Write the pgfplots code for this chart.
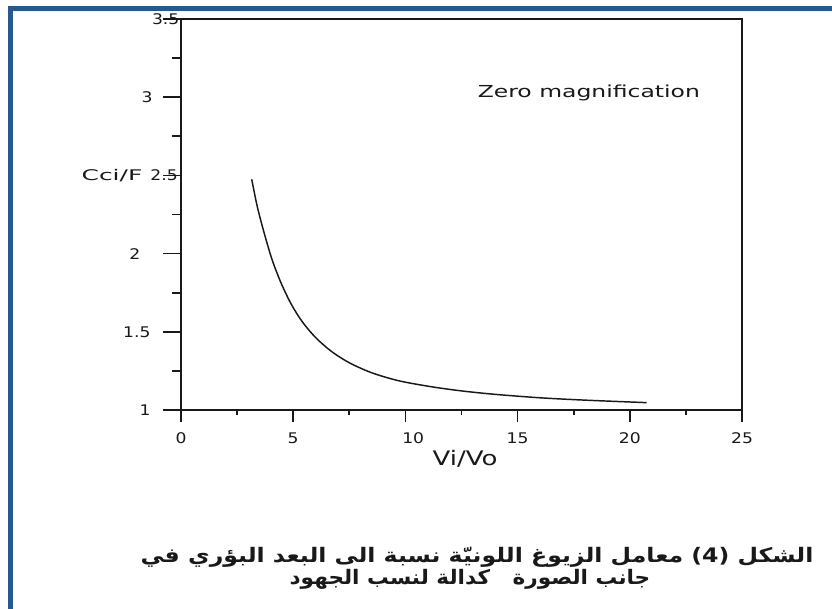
\documentclass[border=0pt]{standalone}
\usepackage{fontspec}
\usepackage{pgfplots}
\pgfplotsset{compat=1.18}
\setmainfont{DejaVu Sans}
\newfontfamily\arabicfont[Script=Arabic]{DejaVu Sans}
\TeXXeTstate=1
\definecolor{frameblue}{RGB}{38,89,143}
\definecolor{ink}{RGB}{25,25,25}

% chromatic aberration coefficient versus voltage ratio
\pgfplotstableread{
x      y
3.15   2.475
3.40   2.300
3.70   2.135
4.05   1.965
4.45   1.815
4.90   1.680
5.40   1.565
6.00   1.463
6.70   1.375
7.50   1.302
8.50   1.238
9.70   1.187
11.10  1.150
12.50  1.122
14.00  1.100
16.00  1.078
18.00  1.063
20.75  1.047
}\ccidata

\pgfplotsset{
  common/.style={
    at={(135.75pt,149.25pt)}, anchor=south west,
    scale only axis, width=420.75pt, height=293.25pt,
    xmin=0, xmax=25, ymin=1, ymax=3.5,
    tick align=outside,
    every tick/.style={ink, line width=1.25pt},
    /pgf/number format/assume math mode=true,
  },
}

\begin{document}
\begin{tikzpicture}
\useasboundingbox (0,0) rectangle (624pt,456.75pt);
\fill[white] (0,0) rectangle (624pt,456.75pt);
\draw[frameblue, line width=3.75pt] (8.1pt,0) -- (8.1pt,450pt) -- (624pt,450pt);

% box and vertical ticks
\begin{axis}[common,
  axis line style={ink, line width=1.25pt},
  xtick=\empty,
  ytick={1,1.5,2,2.5,3,3.5},
  yticklabels={1,1.5,{2\hspace*{6.5pt}},{2.5\hspace*{-17.5pt}},{3\hspace*{-1.3pt}},{3.5\hspace*{-18.5pt}}},
  minor y tick num=1,
  ytick pos=left,
  major tick length=13.5pt, minor tick length=6.75pt,
  yticklabel style={font=\fontsize{11}{13}\selectfont, text=ink, xscale=1.17, xshift=-4.5pt},
]
\addplot[ink, line width=1.1pt, smooth] table[x=x, y=y] {\ccidata};
\node[anchor=base west, text=ink, xscale=1.42, font=\fontsize{12.4}{14}\selectfont]
  at (axis cs:12.93,3.0) {Zero magnification};
\end{axis}

% horizontal ticks
\begin{axis}[common,
  hide y axis,
  axis x line*=bottom,
  axis line style={ink, line width=1.25pt},
  ytick=\empty,
  xtick={0,5,10,15,20,25},
  xticklabels={0,5,{\hspace*{10pt}10},15,20,25},
  minor x tick num=1,
  major tick length=9pt, minor tick length=3.75pt,
  xticklabel style={font=\fontsize{11}{13}\selectfont, text=ink, xscale=1.17, yshift=-4.5pt},
]
\end{axis}

\node[text=ink, xscale=1.7, font=\fontsize{11}{13}\selectfont] at (84pt,324.75pt) {Cci/F};
\node[text=ink, xscale=1.3, font=\fontsize{15}{17}\selectfont] at (348.75pt,112.5pt) {Vi/Vo};

\node[anchor=base, text=ink, xscale=1.18, font=\arabicfont\bfseries\fontsize{15}{17}\selectfont] at (357.75pt,34.5pt)
  {\beginR الشكل \beginL(4)\endL{} معامل الزيوغ اللونيّة نسبة الى البعد البؤري في\endR};
\node[anchor=base, text=ink, xscale=1.08, font=\arabicfont\bfseries\fontsize{15}{17}\selectfont] at (352.5pt,18.5pt)
  {\beginR جانب الصورة \ \ كدالة لنسب الجهود\endR};
\end{tikzpicture}
\end{document}
